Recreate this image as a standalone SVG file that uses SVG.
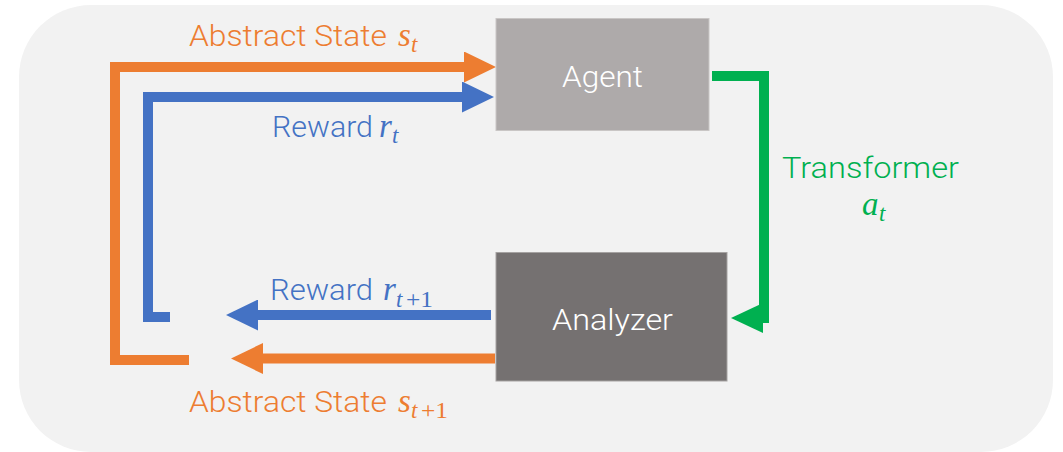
<svg xmlns="http://www.w3.org/2000/svg" width="1063" height="452" viewBox="0 0 1063 452">
<style>
.lbl{font-family:Roboto,"Liberation Sans",Arial,sans-serif;font-weight:300;font-size:30px}
.math{font-family:"Liberation Serif","Times New Roman",serif;font-style:italic;font-size:33px}
.sub{font-family:"Liberation Serif","Times New Roman",serif;font-style:italic;font-size:23px}
.subn{font-family:"Liberation Serif","Times New Roman",serif;font-size:23px}
.o{fill:#ED7D31}.b{fill:#4472C4}.g{fill:#00B050}.w{fill:#FFFFFF}
.line{fill:none;stroke-width:10;stroke-linejoin:miter}
</style>
<defs>
<marker id="ao" viewBox="0 0 32 31" refX="0" refY="15.5" markerWidth="32" markerHeight="31" markerUnits="userSpaceOnUse" orient="auto"><path d="M0,0 L32,15.5 L0,31 Z" fill="#ED7D31"/></marker>
<marker id="ab" viewBox="0 0 32 31" refX="0" refY="15.5" markerWidth="32" markerHeight="31" markerUnits="userSpaceOnUse" orient="auto"><path d="M0,0 L32,15.5 L0,31 Z" fill="#4472C4"/></marker>
<marker id="ag" viewBox="0 0 32 30" refX="0" refY="15" markerWidth="32" markerHeight="30" markerUnits="userSpaceOnUse" orient="auto"><path d="M0,0 L32,15 L0,30 Z" fill="#00B050"/></marker>
</defs>
<rect x="19" y="5" width="1034" height="447" rx="72" ry="72" fill="#F2F2F2"/>
<g id="connectors">
<path class="line" stroke="#ED7D31" d="M189,360 H115 V67 H464" marker-end="url(#ao)"/>
<path class="line" stroke="#4472C4" d="M170,317 H148 V97 H462" marker-end="url(#ab)"/>
<path class="line" stroke="#4472C4" d="M491,315 H258" marker-end="url(#ab)"/>
<path class="line" stroke="#ED7D31" d="M495,358.5 H263" marker-end="url(#ao)"/>
<path class="line" stroke="#00B050" d="M712,76 H764 V318 H763" marker-end="url(#ag)"/>
</g>
<g id="agent">
<rect x="496" y="18.5" width="213" height="112" fill="#AEAAAA" stroke="#C9C6C5" stroke-width="1"/>
<text class="lbl w" x="562" y="86.5" textLength="81" lengthAdjust="spacingAndGlyphs">Agent</text>
</g>
<g id="analyzer">
<rect x="496" y="252.5" width="231" height="128.5" fill="#757171" stroke="#A5A2A1" stroke-width="1"/>
<text class="lbl w" x="552" y="329.5" textLength="121" lengthAdjust="spacingAndGlyphs">Analyzer</text>
</g>
<g id="labels">
<text class="lbl o" x="189" y="46" textLength="198" lengthAdjust="spacingAndGlyphs">Abstract State</text>
<text class="math o" x="398" y="46">s</text><text class="sub o" x="411" y="52">t</text>
<text class="lbl b" x="272" y="136.5" textLength="101" lengthAdjust="spacingAndGlyphs">Reward</text>
<text class="math b" x="379" y="136.5">r</text><text class="sub b" x="392" y="143">t</text>
<text class="lbl g" x="782" y="178" textLength="177" lengthAdjust="spacingAndGlyphs">Transformer</text>
<text class="math g" x="862" y="215">a</text><text class="sub g" x="879" y="221">t</text>
<text class="lbl b" x="270" y="300" textLength="103" lengthAdjust="spacingAndGlyphs">Reward</text>
<text class="math b" x="383" y="300">r</text><text class="sub b" x="396" y="306.5">t</text><text class="subn b" x="406" y="306.5" textLength="27" lengthAdjust="spacingAndGlyphs">+1</text>
<text class="lbl o" x="189" y="411.5" textLength="198" lengthAdjust="spacingAndGlyphs">Abstract State</text>
<text class="math o" x="398" y="411.5">s</text><text class="sub o" x="411" y="418">t</text><text class="subn o" x="421" y="418" textLength="27" lengthAdjust="spacingAndGlyphs">+1</text>
</g>
</svg>
